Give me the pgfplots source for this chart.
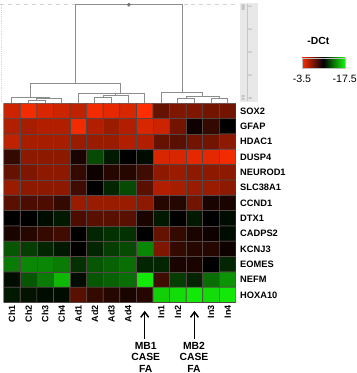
\documentclass[border=0pt]{standalone}
\usepackage{pgfplots}
\pgfplotsset{compat=1.18}
\usepackage{fontspec}
\setmainfont{Liberation Sans}
\usetikzlibrary{arrows.meta}
\definecolor{dendro}{RGB}{140,140,140}
\begin{document}
\begin{tikzpicture}
% ---------- canvas axis in pixel units of the reference (358 x 373) ----------
\begin{axis}[name=canvas, at={(0pt,0pt)}, anchor=north west, scale only axis,
  width=268.5pt, height=279.75pt, xmin=0, xmax=358, ymin=0, ymax=373,
  y dir=reverse, hide axis, clip=false]
\path (rel axis cs:0,0) rectangle (rel axis cs:1,1);
% top dashed line and faint left border
\addplot[gray!35, dashed, line width=0.6pt] coordinates {(0,3) (240,3)};
\addplot[gray!30, densely dotted, line width=0.4pt] coordinates {(1,3) (1,101)};
% distance scale strip
\addplot[fill=gray!18, draw=none] coordinates {(241,1) (259,1) (259,101) (241,101)} --cycle;
\addplot[gray!45, line width=0.4pt] coordinates {(248,2) (248,100)};
\node[font=\fontsize{3}{3}\selectfont, rotate=-90, gray] at (axis cs:244,6) {300};
\node[font=\fontsize{3}{3}\selectfont, rotate=-90, gray] at (axis cs:251,5) {1};
\node[font=\fontsize{3}{3}\selectfont, rotate=-90, gray] at (axis cs:251,28) {2};
\node[font=\fontsize{3}{3}\selectfont, rotate=-90, gray] at (axis cs:251,51) {2};
\node[font=\fontsize{3}{3}\selectfont, rotate=-90, gray] at (axis cs:251,74) {2};
\node[font=\fontsize{3}{3}\selectfont, rotate=-90, gray] at (axis cs:251,97) {0};
\node[font=\fontsize{3}{3}\selectfont, rotate=-90, gray] at (axis cs:244,97) {0.0};
% ---------- dendrogram ----------
\pgfplotsset{dend/.style={dendro, line width=0.75pt, no markers}}
% Ch cluster
\addplot[dend] coordinates {(28.3,101.5) (28.3,99.5) (44.97,99.5) (44.97,101.5)};
\addplot[dend] coordinates {(36.6,99.5) (36.6,97.5) (61.63,97.5) (61.63,101.5)};
\addplot[dend] coordinates {(11.63,101.5) (11.63,96) (49.1,96) (49.1,97.5)};
% Ad + MB1 cluster
\addplot[dend] coordinates {(94.97,101.5) (94.97,96) (111.63,96) (111.63,101.5)};
\addplot[dend] coordinates {(103.3,96) (103.3,94) (128.3,94) (128.3,101.5)};
\addplot[dend] coordinates {(78.3,101.5) (78.3,92.5) (115.8,92.5) (115.8,94)};
\addplot[dend] coordinates {(97.05,92.5) (97.05,92) (144.97,92) (144.97,101.5)};
\addplot[dend] coordinates {(30.4,96) (30.4,82) (121,82) (121,92)};
% In + MB2 cluster
\addplot[dend] coordinates {(178.3,101.5) (178.3,97) (194.97,97) (194.97,101.5)};
\addplot[dend] coordinates {(211.63,101.5) (211.63,97.5) (228.3,97.5) (228.3,101.5)};
\addplot[dend] coordinates {(186.6,97) (186.6,95) (219.97,95) (219.97,97.5)};
\addplot[dend] coordinates {(161.63,101.5) (161.63,91) (203.3,91) (203.3,95)};
% root
\addplot[dend] coordinates {(75.7,82) (75.7,3) (182.5,3) (182.5,91)};
\addplot[dendro!80!black, only marks, mark=*, mark size=1.2pt] coordinates {(129.1,3)};
% ---------- arrows and sample annotations ----------
\addplot[black, line width=1.1pt, -{Straight Barb[length=4pt,width=6pt]}] coordinates {(145,338.5) (145,310.5)};
\addplot[black, line width=1.1pt, -{Straight Barb[length=4pt,width=6pt]}] coordinates {(195,338.5) (195,310.5)};
\begin{scope}[every node/.style={font=\bfseries\fontsize{7.8}{9}\selectfont, anchor=base, inner sep=0pt}]
\node at (axis cs:146,349.3) {MB1};
\node at (axis cs:146,360.7) {CASE};
\node at (axis cs:146,372.2) {FA};
\node at (axis cs:194.5,349.3) {MB2};
\node at (axis cs:194.5,360.7) {CASE};
\node at (axis cs:194.5,372.2) {FA};
\end{scope}
\end{axis}
% ---------- heatmap ----------
\begin{axis}[name=hm, at={(2.475pt,-76.5pt)}, anchor=north west, scale only axis,
  width=175.05pt, height=150.15pt, xmin=0, xmax=14, ymin=0, ymax=13,
  enlargelimits=false, axis line style={draw=none}, major tick length=0pt,
  tick style={draw=none},
  xtick={0.5,1.5,...,13.5},
  xticklabels={Ch1,Ch2,Ch3,Ch4,Ad1,Ad2,Ad3,Ad4,{},In1,In2,{},In3,In4},
  xticklabel style={rotate=90, anchor=east, inner sep=2pt,
    font=\bfseries\fontsize{6.8}{8}\selectfont},
  ytick={0.5,1.5,...,12.5},
  yticklabels={HOXA10,NEFM,EOMES,KCNJ3,CADPS2,DTX1,CCND1,SLC38A1,NEUROD1,DUSP4,HDAC1,GFAP,SOX2},
  yticklabel pos=right,
  yticklabel style={anchor=west, inner sep=0pt, xshift=3pt,
    font=\bfseries\fontsize{7}{8}\selectfont},
  colormap={rg}{rgb255=(20,245,10) rgb255=(0,0,0) rgb255=(255,45,0)},
  point meta min=-17.5, point meta max=-3.5,
  colorbar horizontal,
  colorbar style={at={(parent axis.north west)}, anchor=north west,
    xshift=224.8pt, yshift=42.75pt,
    width=32.25pt, height=7.5pt, x dir=reverse,
    xtick={-17.5,-3.5}, xticklabels={-17.5,-3.5},
    major tick length=0pt, tick style={draw=none},
    axis line style={gray!50, line width=0.4pt},
    xticklabel style={font=\fontsize{8}{9}\selectfont, inner sep=0pt, yshift=-5pt},
    title={-DCt},
    title style={font=\bfseries\fontsize{7.8}{9}\selectfont, inner sep=0pt,
      yshift=3.75pt, xshift=-3.75pt}},
]
\addplot[matrix plot*, mesh/cols=14, point meta=explicit,
  draw={rgb,255:red,85;green,70;blue,70}, line width=0.55pt]
  table[row sep=\\, x expr=\thisrow{x}+0.5, y expr=12.5-\thisrow{r}, meta=v] {
x r v\\
0 0 -4.9\\ 1 0 -3.85\\ 2 0 -4.55\\ 3 0 -4.9\\ 4 0 -5.25\\ 5 0 -3.85\\ 6 0 -4.2\\ 7 0 -4.55\\ 8 0 -3.5\\ 9 0 -7.7\\ 10 0 -7.0\\ 11 0 -7.0\\ 12 0 -7.35\\ 13 0 -7.35\\
0 1 -5.6\\ 1 1 -5.95\\ 2 1 -5.6\\ 3 1 -5.6\\ 4 1 -3.85\\ 5 1 -5.6\\ 6 1 -6.3\\ 7 1 -5.6\\ 8 1 -4.55\\ 9 1 -4.9\\ 10 1 -7.35\\ 11 1 -10.15\\ 12 1 -9.1\\ 13 1 -10.5\\
0 2 -5.25\\ 1 2 -5.95\\ 2 2 -5.95\\ 3 2 -5.95\\ 4 2 -6.3\\ 5 2 -6.3\\ 6 2 -6.3\\ 7 2 -5.6\\ 8 2 -5.6\\ 9 2 -7.7\\ 10 2 -8.05\\ 11 2 -7.35\\ 12 2 -7.35\\ 13 2 -6.65\\
0 3 -9.1\\ 1 3 -6.65\\ 2 3 -6.65\\ 3 3 -6.65\\ 4 3 -9.8\\ 5 3 -12.6\\ 6 3 -11.2\\ 7 3 -10.5\\ 8 3 -10.85\\ 9 3 -4.55\\ 10 3 -4.55\\ 11 3 -4.2\\ 12 3 -4.2\\ 13 3 -3.85\\
0 4 -7.7\\ 1 4 -7.0\\ 2 4 -6.65\\ 3 4 -6.65\\ 4 4 -9.1\\ 5 4 -10.15\\ 6 4 -9.45\\ 7 4 -9.45\\ 8 4 -8.75\\ 9 4 -6.65\\ 10 4 -6.3\\ 11 4 -6.65\\ 12 4 -6.65\\ 13 4 -6.65\\
0 5 -6.3\\ 1 5 -6.65\\ 2 5 -6.65\\ 3 5 -6.65\\ 4 5 -8.75\\ 5 5 -10.5\\ 6 5 -11.55\\ 7 5 -12.6\\ 8 5 -8.05\\ 9 5 -5.6\\ 10 5 -5.95\\ 11 5 -6.3\\ 12 5 -6.3\\ 13 5 -6.65\\
0 6 -8.05\\ 1 6 -8.4\\ 2 6 -8.4\\ 3 6 -9.1\\ 4 6 -6.3\\ 5 6 -6.3\\ 6 6 -6.3\\ 7 6 -6.3\\ 8 6 -6.65\\ 9 6 -9.45\\ 10 6 -9.45\\ 11 6 -7.35\\ 12 6 -9.8\\ 13 6 -9.8\\
0 7 -10.5\\ 1 7 -10.5\\ 2 7 -10.85\\ 3 7 -11.2\\ 4 7 -8.4\\ 5 7 -8.05\\ 6 7 -8.05\\ 7 7 -8.05\\ 8 7 -9.8\\ 9 7 -11.2\\ 10 7 -10.5\\ 11 7 -11.2\\ 12 7 -10.5\\ 13 7 -10.85\\
0 8 -9.8\\ 1 8 -9.45\\ 2 8 -9.1\\ 3 8 -8.75\\ 4 8 -10.5\\ 5 8 -11.55\\ 6 8 -11.9\\ 7 8 -11.9\\ 8 8 -10.5\\ 9 8 -7.7\\ 10 8 -9.1\\ 11 8 -9.8\\ 12 8 -10.15\\ 13 8 -10.85\\
0 9 -12.95\\ 1 9 -12.25\\ 2 9 -11.55\\ 3 9 -11.2\\ 4 9 -10.5\\ 5 9 -11.55\\ 6 9 -12.25\\ 7 9 -12.6\\ 8 9 -14.35\\ 9 9 -7.0\\ 10 9 -9.1\\ 11 9 -9.45\\ 12 9 -9.45\\ 13 9 -10.15\\
0 10 -14.0\\ 1 10 -14.35\\ 2 10 -14.35\\ 3 10 -14.0\\ 4 10 -11.9\\ 5 10 -12.95\\ 6 10 -13.3\\ 7 10 -13.65\\ 8 10 -11.55\\ 9 10 -11.55\\ 10 10 -9.8\\ 11 10 -9.8\\ 12 10 -10.5\\ 13 10 -11.55\\
0 11 -10.85\\ 1 11 -12.95\\ 2 11 -14.0\\ 3 11 -15.75\\ 4 11 -10.85\\ 5 11 -12.95\\ 6 11 -13.3\\ 7 11 -13.65\\ 8 11 -17.15\\ 9 11 -8.75\\ 10 11 -12.25\\ 11 11 -11.55\\ 12 11 -13.65\\ 13 11 -14.7\\
0 12 -11.2\\ 1 12 -11.05\\ 2 12 -10.85\\ 3 12 -10.85\\ 4 12 -8.05\\ 5 12 -9.1\\ 6 12 -9.45\\ 7 12 -9.8\\ 8 12 -9.45\\ 9 12 -16.45\\ 10 12 -16.8\\ 11 12 -17.15\\ 12 12 -16.8\\ 13 12 -17.15\\
};
\end{axis}
\end{tikzpicture}
\end{document}
